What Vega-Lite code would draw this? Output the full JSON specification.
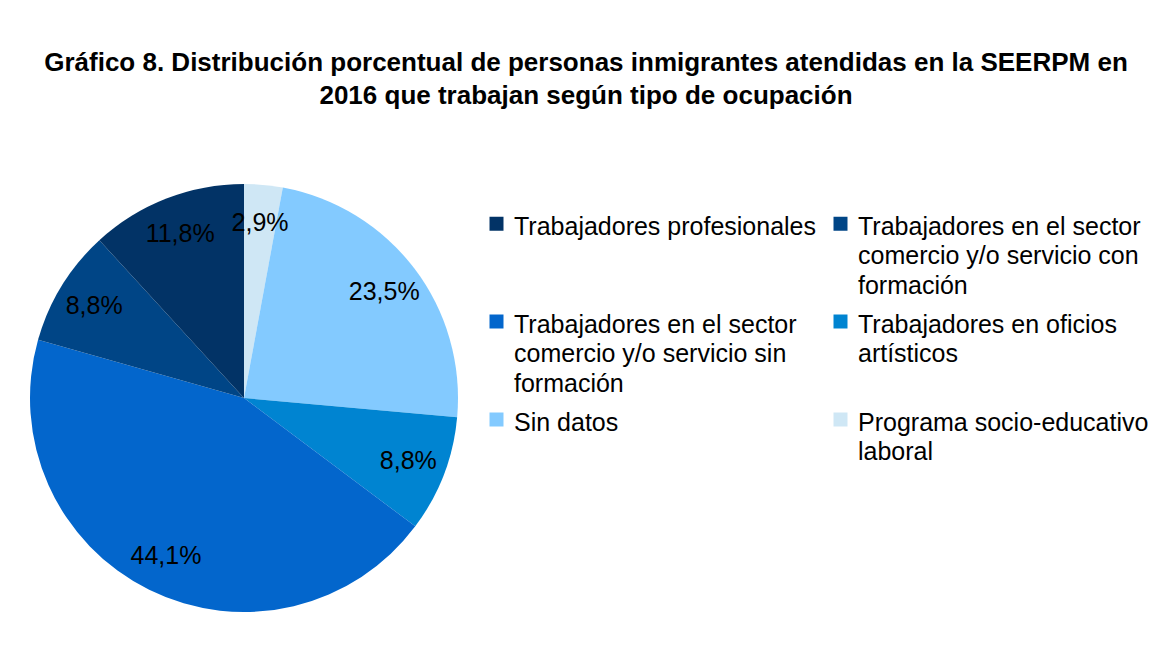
{
  "$schema": "https://vega.github.io/schema/vega-lite/v6.json",
  "autosize": "none",
  "width": 428,
  "height": 428,
  "padding": {"left": 30, "top": 184, "right": 694, "bottom": 45},
  "background": "white",
  "config": {"view": {"stroke": null}, "font": "Liberation Sans"},
  "title": {
    "text": ["Gráfico 8. Distribución porcentual de personas inmigrantes atendidas en la SEERPM en", "2016 que trabajan según tipo de ocupación"],
    "anchor": "middle",
    "frame": "group",
    "dx": 342,
    "offset": 75,
    "font": "Liberation Sans",
    "fontSize": 26,
    "fontWeight": "bold",
    "lineHeight": 33,
    "color": "black"
  },
  "data": {
    "values": [
      {"tipo": "Programa socio-educativo laboral", "pct": 2.9, "orden": 1, "etiqueta": "2,9%"},
      {"tipo": "Sin datos", "pct": 23.5, "orden": 2, "etiqueta": "23,5%"},
      {"tipo": "Trabajadores en oficios artísticos", "pct": 8.8, "orden": 3, "etiqueta": "8,8%"},
      {"tipo": "Trabajadores en el sector comercio y/o servicio sin formación", "pct": 44.1, "orden": 4, "etiqueta": "44,1%"},
      {"tipo": "Trabajadores en el sector comercio y/o servicio con formación", "pct": 8.8, "orden": 5, "etiqueta": "8,8%"},
      {"tipo": "Trabajadores profesionales", "pct": 11.8, "orden": 6, "etiqueta": "11,8%"}
    ]
  },
  "encoding": {
    "theta": {"field": "pct", "type": "quantitative", "stack": true},
    "order": {"field": "orden", "type": "quantitative"}
  },
  "layer": [
    {
      "mark": {"type": "arc", "outerRadius": 214},
      "encoding": {
        "color": {
          "field": "tipo",
          "type": "nominal",
          "scale": {
            "domain": [
              "Trabajadores profesionales",
              "Trabajadores en el sector comercio y/o servicio con formación",
              "Trabajadores en el sector comercio y/o servicio sin formación",
              "Trabajadores en oficios artísticos",
              "Sin datos",
              "Programa socio-educativo laboral"
            ],
            "range": ["#023366", "#004586", "#0366cc", "#0084d1", "#83caff", "#cfe7f5"]
          },
          "legend": {
            "title": null,
            "orient": "none",
            "direction": "horizontal",
            "legendX": 454,
            "legendY": 27,
            "columns": 2,
            "columnPadding": 11,
            "rowPadding": 10,
            "padding": 0,
            "symbolType": "square",
            "symbolSize": 196,
            "symbolStrokeWidth": 0,
            "labelFont": "Liberation Sans",
            "labelFontSize": 25,
            "labelColor": "black",
            "labelLimit": 400,
            "labelOffset": 5,
            "labelBaseline": "alphabetic",
            "labelExpr": "datum.label == 'Trabajadores en el sector comercio y/o servicio con formación' ? ['Trabajadores en el sector', 'comercio y/o servicio con', 'formación'] : datum.label == 'Trabajadores en el sector comercio y/o servicio sin formación' ? ['Trabajadores en el sector', 'comercio y/o servicio sin', 'formación'] : datum.label == 'Trabajadores en oficios artísticos' ? ['Trabajadores en oficios', 'artísticos', ' '] : datum.label == 'Programa socio-educativo laboral' ? ['Programa socio-educativo', 'laboral'] : datum.label == 'Sin datos' ? ['Sin datos', ' '] : datum.label == 'Trabajadores profesionales' ? ['Trabajadores profesionales', ' ', ' '] : datum.label",
            "encode": {"labels": {"update": {"dy": {"value": 11}, "lineHeight": {"value": 29.5}}}}
          }
        }
      }
    },
    {
      "mark": {"type": "text", "radius": 176, "font": "Liberation Sans", "fontSize": 25, "color": "black"},
      "encoding": {"text": {"field": "etiqueta", "type": "nominal"}}
    }
  ]
}
